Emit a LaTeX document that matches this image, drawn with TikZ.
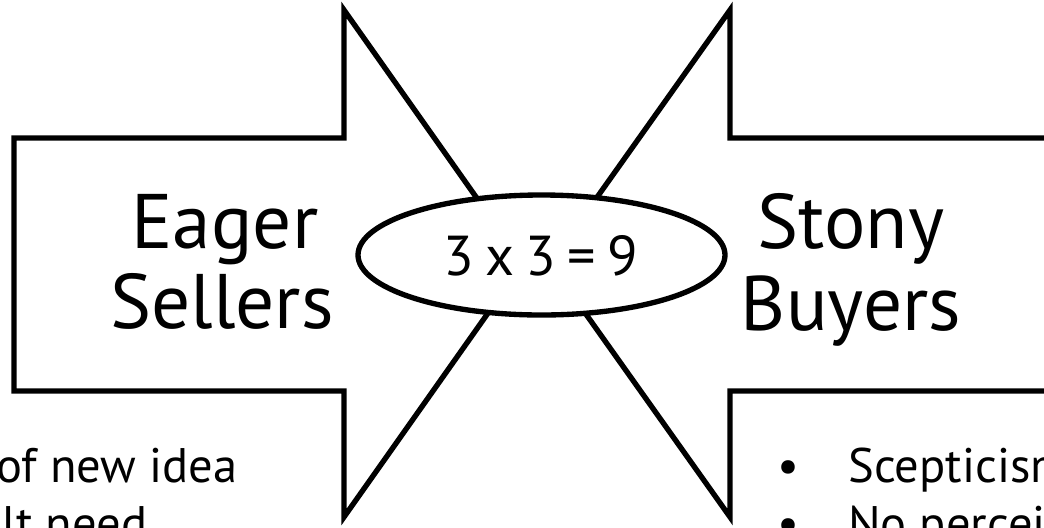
\documentclass[tikz,border=0pt]{standalone}
\usepackage{fontspec}
\setmainfont{PT Sans}
\usetikzlibrary{positioning,shapes.geometric}

\begin{document}
\begin{tikzpicture}[x=0.025cm, y=-0.025cm,
    outline/.style={draw, line width=3.8pt, line join=miter},
    bigtext/.style={anchor=base, inner sep=0pt, font=\fontsize{55}{57}\selectfont},
    listtext/.style={anchor=base west, inner sep=0pt, font=\fontsize{34.5}{41}\selectfont}
]
\useasboundingbox (0,0) rectangle (1044,527);
\clip (0,0) rectangle (1044,527);

% left arrow (pointing right)
\draw[outline] (14,138) -- (344,138) -- (344,10) -- (523,263.5) -- (344,517) -- (344,391) -- (14,391) -- cycle;
% right arrow (pointing left)
\draw[outline] (1100,138) -- (730,138) -- (730,10) -- (550,263.5) -- (730,517) -- (730,391) -- (1100,391) -- cycle;

\node[bigtext] (eager) at (225,248) {Eager};
\node[bigtext] (sellers) at (222,328) {Sellers};
\node[bigtext] (stony) at (851,248) {Stony};
\node[bigtext] (buyers) at (851,330) {Buyers};

% middle ellipse
\draw[outline, fill=white] (541.5,255) ellipse [x radius=183.5, y radius=60];
\node[anchor=base, inner sep=0pt, font=\fontsize{40}{44}\selectfont] (prod)
    at (541,275) {3\hspace{0.2em}x\hspace{0.2em}3\hspace{0.2em}=\hspace{0.2em}9};

% lists
\node[listtext] (idea) at (-4,482) {of new idea};
\node[listtext] (need) at (2,540) {lt need};
\node[listtext] (dot1) at (777,482) {•};
\node[listtext] (doubt) at (848,482) {Scepticism};
\node[listtext] (dot2) at (777,540) {•};
\node[listtext] (noneed) at (848,540) {No perceived};
\end{tikzpicture}
\end{document}
